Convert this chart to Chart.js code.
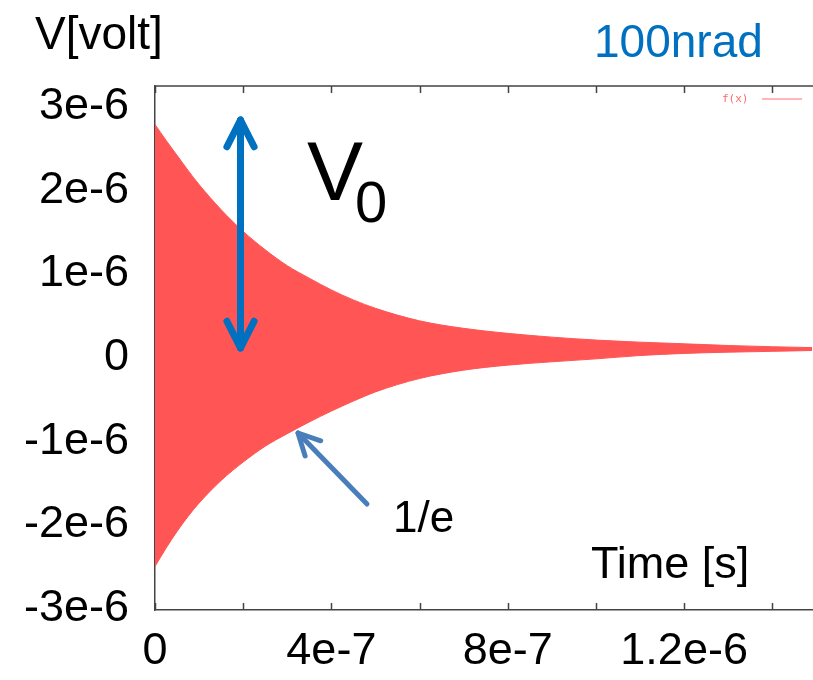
<!DOCTYPE html>
<html>
<head>
<meta charset="utf-8">
<script src="https://cdn.jsdelivr.net/npm/chart.js@4.4.1/dist/chart.umd.min.js"></script>
<style>
  html, body { margin: 0; padding: 0; background: #fff; }
  #wrap { width: 813px; height: 680px; }
</style>
</head>
<body>
<div id="wrap"><canvas id="grafico" width="813" height="680"></canvas></div>
<script>
// --- DATOS (envolvente) ---
const tiempo = [0, 2.5e-8, 5e-8, 7.5e-8, 1e-7, 1.5e-7, 2e-7, 2.5e-7, 3e-7, 3.5e-7, 4e-7, 4.5e-7,
  5e-7, 6e-7, 7e-7, 8e-7, 9e-7, 1e-6, 1.1e-6, 1.2e-6, 1.3e-6, 1.4e-6, 1.49e-6];
const envSuperior = [2.79e-6, 2.60e-6, 2.42e-6, 2.24e-6, 2.07e-6, 1.77e-6, 1.51e-6, 1.29e-6, 1.10e-6, 0.95e-6,
  0.81e-6, 0.69e-6, 0.59e-6, 0.44e-6, 0.35e-6, 0.29e-6, 0.245e-6, 0.21e-6, 0.185e-6, 0.165e-6, 0.145e-6, 0.13e-6, 0.12e-6];
const envInferior = [-2.50e-6, -2.28e-6, -2.08e-6, -1.90e-6, -1.74e-6, -1.47e-6, -1.25e-6, -1.06e-6, -0.91e-6, -0.77e-6,
  -0.64e-6, -0.52e-6, -0.41e-6, -0.25e-6, -0.15e-6, -0.09e-6, -0.05e-6, -0.015e-6, 0.025e-6, 0.05e-6, 0.065e-6, 0.075e-6, 0.085e-6];

const xTicks = [0, 2e-7, 4e-7, 6e-7, 8e-7, 1e-6, 1.2e-6, 1.4e-6];
const xTickLabels = ['0', '', '4e-7', '', '8e-7', '', '1.2e-6', ''];
const yTicks = [-3e-6, -2e-6, -1e-6, 0, 1e-6, 2e-6, 3e-6];
const yTickLabels = ['-3e-6', '-2e-6', '-1e-6', '0', '1e-6', '2e-6', '3e-6'];

// --- ESTILOS ---
const ROJO = '#ff5555';
const AZUL = '#0070c0';
const AZUL_FLECHA = '#4a7ebb';
const BORDE = '#444';
const FUENTE = "'Liberation Sans', Arial, Helvetica, sans-serif";

const puntos = (valores) => tiempo.map((t, i) => ({ x: t, y: valores[i] }));

// flecha con punta abierta
const flecha = (ctx, x1, y1, x2, y2, largo, ang) => {
  const a = Math.atan2(y2 - y1, x2 - x1);
  ctx.beginPath();
  ctx.moveTo(x1, y1);
  ctx.lineTo(x2, y2);
  ctx.stroke();
  ctx.beginPath();
  ctx.moveTo(x2 - largo * Math.cos(a - ang), y2 - largo * Math.sin(a - ang));
  ctx.lineTo(x2, y2);
  ctx.lineTo(x2 - largo * Math.cos(a + ang), y2 - largo * Math.sin(a + ang));
  ctx.stroke();
};

// --- DECORACION: borde superior, ticks hacia dentro, leyenda y anotaciones ---
const decoracion = {
  id: 'decoracion',
  afterDraw(chart) {
    const { ctx, chartArea } = chart;
    const x = chart.scales.x;
    ctx.save();

    // borde superior y ticks
    ctx.strokeStyle = BORDE;
    ctx.lineWidth = 1.5;
    ctx.beginPath();
    ctx.moveTo(chartArea.left, chartArea.top);
    ctx.lineTo(chartArea.right + 1, chartArea.top);
    xTicks.forEach(v => {
      const px = Math.round(x.getPixelForValue(v)) + 0.5;
      ctx.moveTo(px, chartArea.bottom);
      ctx.lineTo(px, chartArea.bottom - 7);
      ctx.moveTo(px, chartArea.top);
      ctx.lineTo(px, chartArea.top + 7);
    });
    ctx.stroke();

    // leyenda f(x)
    ctx.fillStyle = 'rgba(255,85,85,0.9)';
    ctx.font = "11px 'DejaVu Sans Mono', monospace";
    ctx.textBaseline = 'middle';
    ctx.fillText('f(x)', 722, 99);
    ctx.strokeStyle = 'rgba(255,85,85,0.85)';
    ctx.lineWidth = 1;
    ctx.beginPath();
    ctx.moveTo(762, 99);
    ctx.lineTo(802, 99);
    ctx.stroke();

    // textos
    ctx.textBaseline = 'alphabetic';
    ctx.fillStyle = '#000';
    ctx.font = `46px ${FUENTE}`;
    ctx.fillText('V[volt]', 35, 49);
    ctx.font = `45px ${FUENTE}`;
    ctx.fillText('Time [s]', 591, 578);
    ctx.font = `44px ${FUENTE}`;
    ctx.fillText('1/e', 393, 532);
    ctx.font = `84px ${FUENTE}`;
    ctx.fillText('V', 307, 200);
    ctx.font = `58px ${FUENTE}`;
    ctx.fillText('0', 355, 222);
    ctx.fillStyle = AZUL;
    ctx.font = `46px ${FUENTE}`;
    ctx.fillText('100nrad', 594, 57);

    // flecha doble V0
    ctx.strokeStyle = AZUL;
    ctx.lineWidth = 7;
    ctx.lineCap = 'round';
    ctx.lineJoin = 'round';
    flecha(ctx, 240.5, 230, 240.5, 120, 30, 0.47);
    flecha(ctx, 240.5, 230, 240.5, 348, 30, 0.47);

    // flecha 1/e
    ctx.strokeStyle = AZUL_FLECHA;
    ctx.lineWidth = 5;
    flecha(ctx, 367, 504, 298, 433, 24, 0.47);

    ctx.restore();
  }
};

// --- GRAFICO ---
const ctx = document.getElementById('grafico').getContext('2d');
new Chart(ctx, {
  type: 'line',
  data: {
    datasets: [
      {
        label: 'f(x)',
        data: puntos(envSuperior),
        borderColor: ROJO,
        backgroundColor: ROJO,
        borderWidth: 1,
        pointRadius: 0,
        fill: '+1',
        cubicInterpolationMode: 'monotone'
      },
      {
        label: 'f(x) inf',
        data: puntos(envInferior),
        borderColor: ROJO,
        borderWidth: 1,
        pointRadius: 0,
        fill: false,
        cubicInterpolationMode: 'monotone'
      }
    ]
  },
  options: {
    responsive: false,
    animation: false,
    layout: { padding: { top: 86, right: 1, left: 0, bottom: 0 } },
    plugins: { legend: { display: false }, tooltip: { enabled: false } },
    scales: {
      x: {
        type: 'linear',
        min: 0,
        max: 1.49e-6,
        afterBuildTicks: (s) => { s.ticks = xTicks.map(v => ({ value: v })); },
        afterFit: (s) => { s.height = 70; },
        grid: { display: false, drawTicks: false },
        border: { display: true, color: BORDE, width: 1.5 },
        ticks: {
          autoSkip: false,
          maxRotation: 0,
          padding: 15,
          color: '#000',
          font: { family: FUENTE, size: 45 },
          callback: (v, i) => xTickLabels[i]
        }
      },
      y: {
        min: -3.02e-6,
        max: 3.25e-6,
        afterBuildTicks: (s) => { s.ticks = yTicks.map(v => ({ value: v })); },
        afterFit: (s) => { s.width = 155; },
        grid: { display: false, drawTicks: false },
        border: { display: true, color: BORDE, width: 1.5 },
        ticks: {
          autoSkip: false,
          padding: 26,
          color: '#000',
          font: { family: FUENTE, size: 45 },
          callback: (v, i) => yTickLabels[i]
        }
      }
    }
  },
  plugins: [decoracion]
});
</script>
</body>
</html>
